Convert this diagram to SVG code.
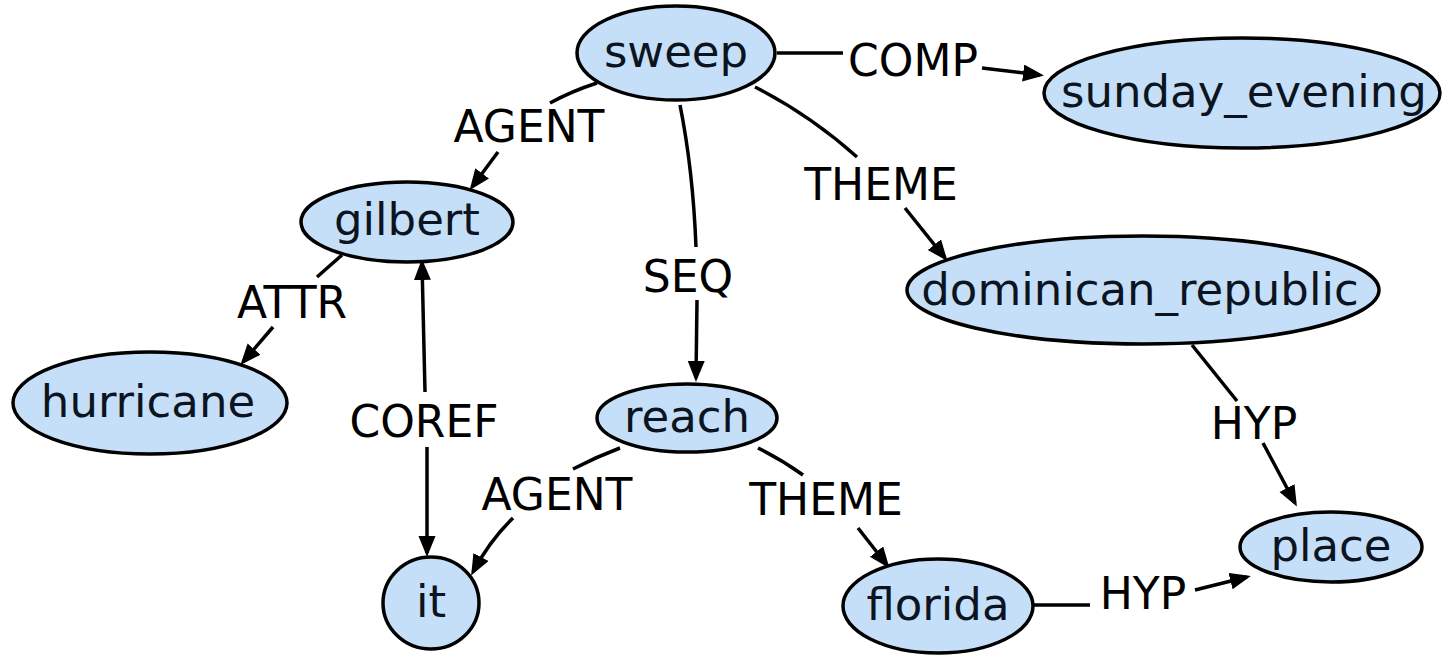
<svg xmlns="http://www.w3.org/2000/svg" width="1446" height="656" viewBox="0 0 1446 656">
<style>
.node ellipse{fill:#c6dff8;stroke:#000;stroke-width:3.5}
.node text{font-family:"DejaVu Sans",sans-serif;font-size:45px;text-anchor:middle;fill:#0b1420}
.edges path{fill:none;stroke:#000;stroke-width:3.5}
.edges text{font-family:"DejaVu Sans",sans-serif;font-size:44px;text-anchor:middle;fill:#000}
</style>
<defs>
<marker id="arr" markerUnits="userSpaceOnUse" markerWidth="22" markerHeight="18" refX="17" refY="8.5" orient="auto-start-reverse" viewBox="0 0 22 18">
<path d="M0,0 L21,8.5 L0,17 z" fill="#000"/>
</marker>
</defs>
<rect width="1446" height="656" fill="#fff"/>
<g class="edges">
<!-- sweep -> gilbert AGENT -->
<path d="M597,83 Q572,91 550,103"/>
<path d="M498,152 L472,187" marker-end="url(#arr)"/>
<text x="529" y="142">AGENT</text>
<!-- sweep -> reach SEQ -->
<path d="M680,105 Q693,170 696,247"/>
<path d="M697,300 L696,378" marker-end="url(#arr)"/>
<text x="688" y="292">SEQ</text>
<!-- sweep -> dominican_republic THEME -->
<path d="M755,87 Q810,115 857,157"/>
<path d="M905,208 L945,258" marker-end="url(#arr)"/>
<text x="881" y="200">THEME</text>
<!-- sweep -> sunday_evening COMP -->
<path d="M777,53 L843,53"/>
<path d="M982,68 L1040,75" marker-end="url(#arr)"/>
<text x="913" y="76">COMP</text>
<!-- dominican_republic -> place HYP -->
<path d="M1192,345 L1237,401"/>
<path d="M1263,443 L1295,503" marker-end="url(#arr)"/>
<text x="1254" y="439">HYP</text>
<!-- gilbert -> hurricane ATTR -->
<path d="M342,255 L317,277"/>
<path d="M273,327 L243,362" marker-end="url(#arr)"/>
<text x="292" y="318">ATTR</text>
<!-- gilbert <-> it COREF -->
<path d="M425,392 L422,263" marker-end="url(#arr)"/>
<path d="M427,447 L427,553" marker-end="url(#arr)"/>
<text x="424" y="437">COREF</text>
<!-- reach -> it AGENT -->
<path d="M620,448 Q596,457 573,469"/>
<path d="M513,518 Q490,540 473,572" marker-end="url(#arr)"/>
<text x="557" y="510">AGENT</text>
<!-- reach -> florida THEME -->
<path d="M758,448 Q782,460 803,475"/>
<path d="M858,528 L887,565" marker-end="url(#arr)"/>
<text x="826" y="515">THEME</text>
<!-- florida -> place HYP -->
<path d="M1034,605 L1090,605"/>
<path d="M1195,590 L1247,577" marker-end="url(#arr)"/>
<text x="1143" y="609">HYP</text>
</g>
<g id="sweep" class="node"><ellipse cx="676" cy="53" rx="99" ry="47"/><text x="676" y="67">sweep</text></g>
<g id="sunday_evening" class="node"><ellipse cx="1242" cy="93" rx="198" ry="55"/><text x="1244" y="107">sunday_evening</text></g>
<g id="gilbert" class="node"><ellipse cx="407" cy="222" rx="106" ry="40"/><text x="407" y="235">gilbert</text></g>
<g id="hurricane" class="node"><ellipse cx="150" cy="403" rx="137" ry="51"/><text x="148" y="417">hurricane</text></g>
<g id="dominican_republic" class="node"><ellipse cx="1143" cy="290" rx="236" ry="54"/><text x="1140" y="305">dominican_republic</text></g>
<g id="reach" class="node"><ellipse cx="687" cy="418" rx="90" ry="34"/><text x="687" y="432">reach</text></g>
<g id="it" class="node"><ellipse cx="431" cy="603" rx="48" ry="46"/><text x="431" y="617">it</text></g>
<g id="florida" class="node"><ellipse cx="938" cy="606" rx="95" ry="47"/><text x="938" y="620">florida</text></g>
<g id="place" class="node"><ellipse cx="1331" cy="547" rx="91" ry="35"/><text x="1331" y="561">place</text></g>
</svg>
